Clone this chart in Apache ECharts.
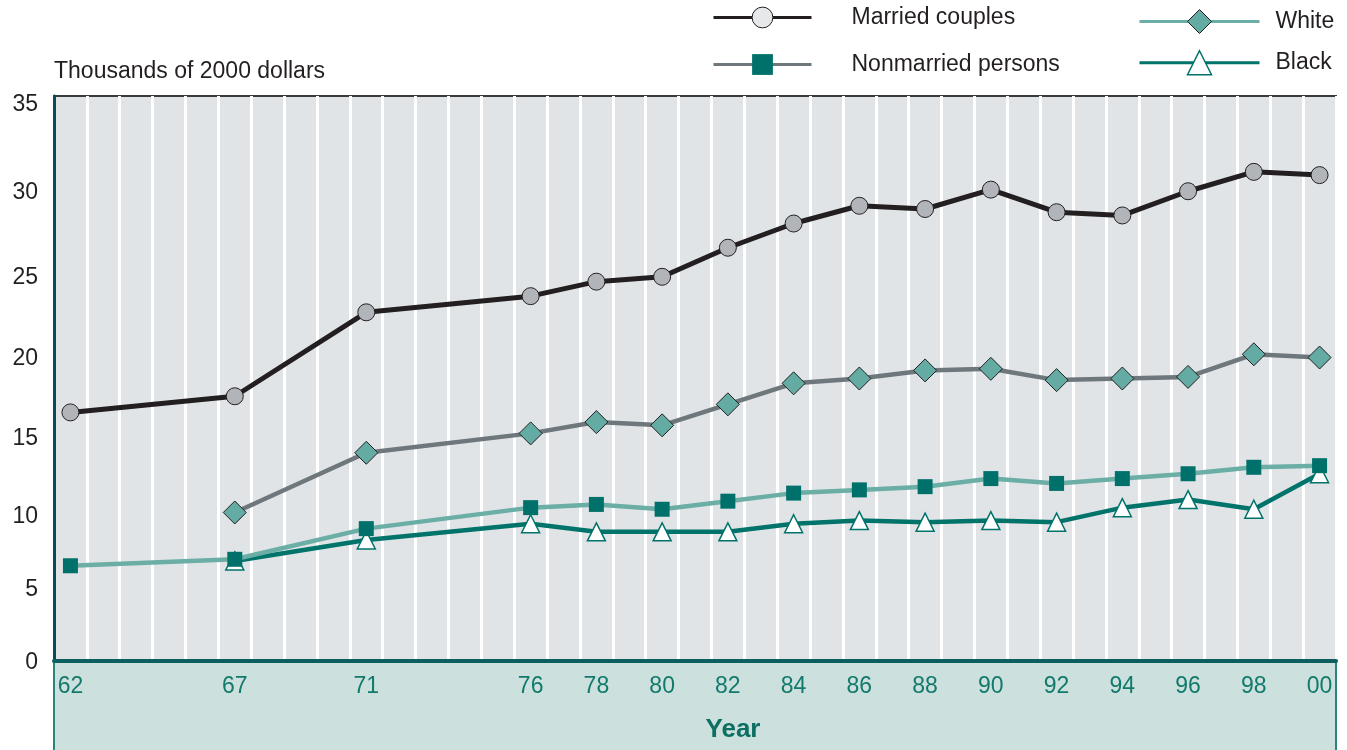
<!DOCTYPE html>
<html>
<head>
<meta charset="utf-8">
<script src="https://cdn.jsdelivr.net/npm/echarts@6/dist/echarts.min.js"></script>
<style>
  html, body { margin: 0; padding: 0; background: #fff; }
  #chart { width: 1347px; height: 750px; }
</style>
</head>
<body>
<div id="chart"></div>
<script>
var years = [];
for (var y = 1962; y <= 2000; y++) years.push(String(y));

var labelYears = ["1962", "1967", "1971", "1976", "1978", "1980", "1982", "1984",
  "1986", "1988", "1990", "1992", "1994", "1996", "1998", "2000"];

// values in thousands of 2000 dollars, one per labelled year (null = no data)
var married = [15.4, 16.4, 21.6, 22.6, 23.5, 23.8, 25.6, 27.1, 28.2, 28.0, 29.2, 27.8, 27.6, 29.1, 30.3, 30.1];
var white = [null, 9.2, 12.9, 14.1, 14.8, 14.6, 15.9, 17.2, 17.5, 18.0, 18.1, 17.4, 17.5, 17.6, 19.0, 18.8];
var nonmarried = [5.9, 6.3, 8.2, 9.5, 9.7, 9.4, 9.9, 10.4, 10.6, 10.8, 11.3, 11.0, 11.3, 11.6, 12.0, 12.1];
var black = [null, 6.2, 7.5, 8.5, 8.0, 8.0, 8.0, 8.5, 8.7, 8.6, 8.7, 8.6, 9.5, 10.0, 9.4, 11.6];

function toPairs(vals) {
  var out = [];
  labelYears.forEach(function (yr, i) {
    if (vals[i] != null) out.push([yr, vals[i]]);
  });
  return out;
}

var font = "Liberation Sans";
// the printed tick labels sit a little below their ticks in the original
var labelDrop = { 0: 2, 5: 9, 10: 17, 15: 20, 20: 21, 25: 20, 30: 16, 35: 9 };
var yRich = {};
Object.keys(labelDrop).forEach(function (k) {
  yRich["d" + k] = { fontFamily: font, fontSize: 23, color: "#231f20", padding: [labelDrop[k] * 2, 0, 0, 0] };
});

var chartDom = document.getElementById("chart");
var myChart = echarts.init(chartDom);
var option;

option = {
  animation: false,
  textStyle: { fontFamily: font },
  grid: {
    left: 54, right: 11, top: 96, bottom: 89,
    containLabel: false,
    outerBoundsMode: "none",
    show: true,
    backgroundColor: "#e1e4e7",
    borderColor: "#3a3a3a",
    borderWidth: 2
  },
  graphic: [
    {
      type: "rect",
      z: -1,
      shape: { x: 54, y: 662, width: 1282, height: 92 },
      style: { fill: "#cce0de", stroke: "#2a8479", lineWidth: 2 }
    }
  ],
  legend: [
    {
      orient: "vertical",
      left: 712, top: 6, padding: 0,
      itemWidth: 98, itemHeight: 26, itemGap: 24,
      selectedMode: false,
      textStyle: { fontFamily: font, fontSize: 23, color: "#231f20", padding: [0, 0, 0, 35] },
      data: [
        { name: "Married couples", lineStyle: { color: "#231f20", width: 3 },
          itemStyle: { color: "#e6e8ea", borderColor: "#231f20", borderWidth: 1 } },
        { name: "Nonmarried persons", lineStyle: { color: "#6d777c", width: 3 },
          itemStyle: { color: "#00716a", borderWidth: 0 } }
      ]
    },
    {
      orient: "vertical",
      left: 1138, top: 9, padding: 0,
      itemWidth: 120, itemHeight: 30, itemGap: 16,
      selectedMode: false,
      textStyle: { fontFamily: font, fontSize: 23, color: "#231f20", padding: [0, 0, 0, 11] },
      data: [
        { name: "White", lineStyle: { color: "#6aaea6", width: 3 },
          itemStyle: { color: "#63aba3", borderColor: "#231f20", borderWidth: 1 } },
        { name: "Black", lineStyle: { color: "#00736a", width: 3 },
          itemStyle: { color: "#ffffff", borderColor: "#00736a", borderWidth: 1.5 } }
      ]
    }
  ],
  xAxis: {
    type: "category",
    data: years,
    boundaryGap: true,
    name: "Year",
    nameLocation: "middle",
    nameGap: 56,
    nameTextStyle: { fontFamily: font, fontSize: 26, fontWeight: "bold", color: "#0d6e62", padding: [0, 0, 0, 76] },
    axisLine: { lineStyle: { color: "#0d5e5e", width: 4 } },
    axisTick: { show: false },
    axisLabel: {
      interval: function (idx, val) { return labelYears.indexOf(val) >= 0; },
      formatter: function (val) { return val.slice(2); },
      fontFamily: font, fontSize: 23, color: "#127a6c", margin: 14
    },
    splitLine: { show: true, interval: 0, lineStyle: { color: "#ffffff", width: 3 } }
  },
  yAxis: {
    type: "value",
    min: 0, max: 35, interval: 5,
    name: "Thousands of 2000 dollars",
    nameLocation: "end",
    nameGap: 24,
    nameTextStyle: { fontFamily: font, fontSize: 23, color: "#231f20", align: "left", verticalAlign: "middle" },
    axisLine: { show: true, lineStyle: { color: "#0b4a5e", width: 3 } },
    axisTick: { show: false },
    axisLabel: {
      fontFamily: font, fontSize: 23, color: "#231f20", margin: 16,
      formatter: function (v) { return "{d" + v + "|" + v + "}"; },
      rich: yRich
    },
    splitLine: { show: false }
  },
  series: [
    {
      name: "Married couples", type: "line", data: toPairs(married),
      symbol: "circle", symbolSize: 17,
      lineStyle: { color: "#231f20", width: 5 },
      itemStyle: { color: "#b1b5ba", borderColor: "#231f20", borderWidth: 1 }
    },
    {
      name: "White", type: "line", data: toPairs(white),
      symbol: "diamond", symbolSize: 23,
      lineStyle: { color: "#6d777c", width: 4.5 },
      itemStyle: { color: "#63aba3", borderColor: "#231f20", borderWidth: 1 }
    },
    {
      name: "Black", type: "line", data: toPairs(black),
      symbol: "triangle", symbolSize: 18,
      lineStyle: { color: "#00736a", width: 4.5 },
      itemStyle: { color: "#ffffff", borderColor: "#00736a", borderWidth: 1.5 }
    },
    {
      name: "Nonmarried persons", type: "line", data: toPairs(nonmarried),
      symbol: "rect", symbolSize: 15,
      lineStyle: { color: "#6aaea6", width: 4.5 },
      itemStyle: { color: "#00716a", borderWidth: 0 }
    }
  ]
};

option && myChart.setOption(option);
</script>
</body>
</html>
